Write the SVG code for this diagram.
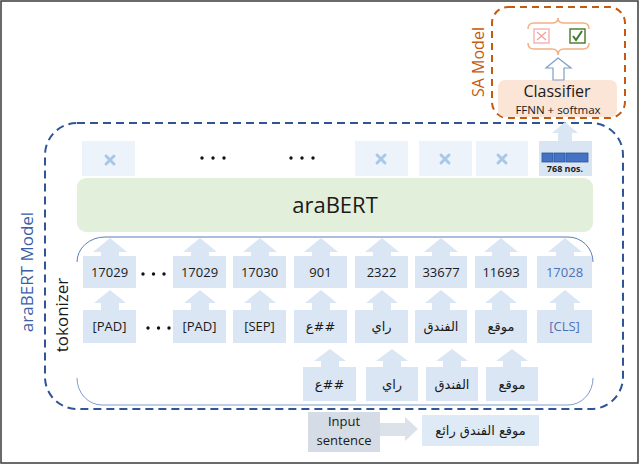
<svg xmlns="http://www.w3.org/2000/svg" width="640" height="466" viewBox="0 0 640 466">
<defs>
<style>
.t{font-family:"Open Sans","Noto Sans",sans-serif;fill:#1a1a1a}
.ar{font-family:"DejaVu Sans","Noto Sans",sans-serif;fill:#1a1a1a;font-size:13px}
.num{font-size:13px;text-anchor:middle}
.tok{fill:#DBE6F4}
.emb{fill:#EDF3FA}
.arr{fill:#DBE6F4}
.xm{stroke:#A9C8E8;stroke-width:3;stroke-linecap:round}
.blue{fill:#4A72B5}
.dot{fill:#111}
</style>
</defs>
<rect x="1" y="1" width="637" height="462" fill="#fff" stroke="#3a3a3a" stroke-width="1.5"/>

<!-- araBERT Model dashed container -->
<g id="arabert-model">
<rect x="45" y="123" width="578" height="286" rx="32" fill="none" stroke="#2F5597" stroke-width="2" stroke-dasharray="8 5"/>
<text class="t" x="0" y="0" font-size="17" style="fill:#3A5FA8" text-anchor="middle" transform="translate(33,272) rotate(-90)">araBERT Model</text>
</g>

<!-- SA Model dashed container -->
<g id="sa-model">
<rect x="492" y="7" width="133" height="111" rx="16" fill="none" stroke="#C55A11" stroke-width="2" stroke-dasharray="7 5"/>
<text class="t" x="0" y="0" font-size="16" style="fill:#C55A11" text-anchor="middle" transform="translate(484,62) rotate(-90)">SA Model</text>
</g>

<!-- tokenizer bracket -->
<g id="tokenizer">
<path d="M77,262 A28,25 0 0 1 105,237 H568 A25,25 0 0 1 593,262" fill="none" stroke="#5B7DB8" stroke-width="1"/>
<path d="M77,378 A25,27 0 0 0 102,405 H568 A25,27 0 0 0 593,378" fill="none" stroke="#7F9CC8" stroke-width="1"/>
<text class="t" x="0" y="0" font-size="17" text-anchor="middle" transform="translate(68,315) rotate(-90)">tokonizer</text>
</g>

<!-- araBERT block -->
<g id="arabert">
<rect x="77" y="178" width="516" height="54" rx="9" fill="#E2EFDA"/>
<text class="t" x="335" y="213" font-size="22" text-anchor="middle">araBERT</text>
</g>

<!-- output embeddings row -->
<g id="outputs">
<rect class="emb" x="82" y="141" width="53" height="35"/>
<line class="xm" x1="106" y1="156" x2="114" y2="164"/><line class="xm" x1="114" y1="156" x2="106" y2="164"/>
<circle class="dot" cx="202" cy="158" r="1.7"/><circle class="dot" cx="213" cy="158" r="1.7"/><circle class="dot" cx="224" cy="158" r="1.7"/>
<circle class="dot" cx="291" cy="158" r="1.7"/><circle class="dot" cx="302" cy="158" r="1.7"/><circle class="dot" cx="313" cy="158" r="1.7"/>
<rect class="emb" x="355" y="141" width="53" height="35"/>
<line class="xm" x1="377" y1="155" x2="385" y2="163"/><line class="xm" x1="385" y1="155" x2="377" y2="163"/>
<rect class="emb" x="419" y="141" width="53" height="35"/>
<line class="xm" x1="441" y1="155" x2="449" y2="163"/><line class="xm" x1="449" y1="155" x2="441" y2="163"/>
<rect class="emb" x="476" y="141" width="52" height="35"/>
<line class="xm" x1="498" y1="155" x2="506" y2="163"/><line class="xm" x1="506" y1="155" x2="498" y2="163"/>
</g>
<g id="cls-output">
<path class="arr" d="M565,122 L578,133 H572 V141 H558 V133 H552 Z"/>
<rect x="539" y="141" width="53" height="35" fill="#DAE5F3"/>
<rect x="542" y="153" width="11" height="9" fill="#4472C4" stroke="#2F5597" stroke-width="0.8"/>
<rect x="554" y="153" width="11" height="9" fill="#4472C4" stroke="#2F5597" stroke-width="0.8"/>
<rect x="566" y="153" width="22" height="9" fill="#4472C4" stroke="#2F5597" stroke-width="0.8"/>
<text class="t" x="565" y="172" font-size="9" font-weight="bold" text-anchor="middle">768 nos.</text>
</g>

<!-- classifier -->
<g id="classifier">
<rect x="498" y="80" width="119" height="37" rx="7" fill="#FBE5D6"/>
<text class="t" x="557" y="97" font-size="16" text-anchor="middle">Classifier</text>
<text class="t" x="558" y="114" font-size="11.5" text-anchor="middle">FFNN + softmax</text>
</g>
<g id="sentiment">
<path d="M528,29 Q528,23 534,23 H552 Q558,23 558,18 Q558,23 564,23 H583 Q589,23 589,29" fill="none" stroke="#F4B183" stroke-width="1.5"/>
<path d="M528,43 Q528,49 534,49 H552 Q558,49 558,55 Q558,49 564,49 H583 Q589,49 589,43" fill="none" stroke="#F4B183" stroke-width="1.5"/>
<rect x="534" y="29" width="15" height="14" fill="#fff" stroke="#F4B6B6" stroke-width="1.5"/>
<path d="M537,32 L546,40 M546,32 L537,40" stroke="#F4A0A0" stroke-width="1.3"/>
<rect x="570" y="29" width="15" height="14" fill="#fff" stroke="#538135" stroke-width="1.5"/>
<path d="M573,36 L576,40 L582,31" fill="none" stroke="#3F7A2A" stroke-width="2"/>
</g>

<!-- connectors -->
<g id="connectors">
<path d="M558,58 L571,68 H564 V80 H553 V68 H546 Z" fill="#fff" stroke="#7F9CC8" stroke-width="1.2"/>
<g class="arr">
<path d="M110,238 L127,252 H119 V256 H101 V252 H93 Z"/>
<path d="M200,238 L217,252 H209 V256 H191 V252 H183 Z"/>
<path d="M260,238 L277,252 H269 V256 H251 V252 H243 Z"/>
<path d="M321,238 L338,252 H330 V256 H312 V252 H304 Z"/>
<path d="M382,238 L399,252 H391 V256 H373 V252 H365 Z"/>
<path d="M441,238 L458,252 H450 V256 H432 V252 H424 Z"/>
<path d="M501,238 L518,252 H510 V256 H492 V252 H484 Z"/>
<path d="M565,238 L582,252 H574 V256 H556 V252 H548 Z"/>
<path d="M110,290 L126,303 H119 V310 H101 V303 H94 Z"/>
<path d="M200,290 L216,303 H209 V310 H191 V303 H184 Z"/>
<path d="M260,290 L276,303 H269 V310 H251 V303 H244 Z"/>
<path d="M321,290 L337,303 H330 V310 H312 V303 H305 Z"/>
<path d="M382,290 L398,303 H391 V310 H373 V303 H366 Z"/>
<path d="M441,290 L457,303 H450 V310 H432 V303 H425 Z"/>
<path d="M501,290 L517,303 H510 V310 H492 V303 H485 Z"/>
<path d="M565,290 L581,303 H574 V310 H556 V303 H549 Z"/>
<path d="M330,349 L346,361 H339 V367 H321 V361 H314 Z"/>
<path d="M392,349 L408,361 H401 V367 H383 V361 H376 Z"/>
<path d="M452,349 L468,361 H461 V367 H443 V361 H436 Z"/>
<path d="M512,349 L528,361 H521 V367 H503 V361 H496 Z"/>
</g>
<path d="M380,423 H405 V417 L418,429 L405,441 V436 H380 Z" fill="#DCE2EA"/>
</g>

<!-- token id row -->
<g id="ids">
<rect class="tok" x="83" y="256" width="53" height="32"/><text class="t num" x="109.5" y="277">17029</text>
<circle class="dot" cx="143" cy="274" r="1.7"/><circle class="dot" cx="153.5" cy="274" r="1.7"/><circle class="dot" cx="164" cy="274" r="1.7"/>
<rect class="tok" x="173" y="256" width="53" height="32"/><text class="t num" x="199.5" y="277">17029</text>
<rect class="tok" x="233" y="256" width="53" height="32"/><text class="t num" x="259.5" y="277">17030</text>
<rect class="tok" x="294" y="256" width="53" height="32"/><text class="t num" x="320.5" y="277">901</text>
<rect class="tok" x="355" y="256" width="53" height="32"/><text class="t num" x="381.5" y="277">2322</text>
<rect class="tok" x="415" y="256" width="52" height="32"/><text class="t num" x="441" y="277">33677</text>
<rect class="tok" x="475" y="256" width="52" height="32"/><text class="t num" x="501" y="277">11693</text>
<rect class="tok" x="537" y="256" width="55" height="32"/><text class="t num blue" x="564.5" y="277">17028</text>
</g>

<!-- token row -->
<g id="tokens">
<rect class="tok" x="83" y="310" width="53" height="33"/><text class="t num" x="109.5" y="331">[PAD]</text>
<circle class="dot" cx="148" cy="328" r="1.7"/><circle class="dot" cx="158.5" cy="328" r="1.7"/><circle class="dot" cx="169" cy="328" r="1.7"/>
<rect class="tok" x="173" y="310" width="53" height="33"/><text class="t num" x="199.5" y="331">[PAD]</text>
<rect class="tok" x="233" y="310" width="53" height="33"/><text class="t num" x="259.5" y="331">[SEP]</text>
<rect class="tok" x="294" y="310" width="53" height="33"/><text class="ar" x="320.5" y="331" text-anchor="middle" direction="ltr">ع##</text>
<rect class="tok" x="355" y="310" width="53" height="33"/><text class="ar" x="381.5" y="331" text-anchor="middle">راي</text>
<rect class="tok" x="415" y="310" width="52" height="33"/><text class="ar" x="441" y="331" text-anchor="middle">الفندق</text>
<rect class="tok" x="475" y="310" width="52" height="33"/><text class="ar" x="501" y="331" text-anchor="middle">موقع</text>
<rect class="tok" x="537" y="310" width="55" height="33"/><text class="t num blue" x="564.5" y="331">[CLS]</text>
</g>

<!-- word row -->
<g id="words">
<rect class="tok" x="303" y="367" width="53" height="34"/><text class="ar" x="329.5" y="389" text-anchor="middle" direction="ltr">ع##</text>
<rect class="tok" x="366" y="367" width="52" height="34"/><text class="ar" x="392" y="389" text-anchor="middle">راي</text>
<rect class="tok" x="426" y="367" width="52" height="34"/><text class="ar" x="452" y="389" text-anchor="middle">الفندق</text>
<rect class="tok" x="486" y="367" width="52" height="34"/><text class="ar" x="512" y="389" text-anchor="middle">موقع</text>
</g>

<!-- input -->
<g id="input">
<rect x="308" y="412" width="72" height="40" fill="#D6DCE5"/>
<text class="t" x="344" y="426" font-size="13" text-anchor="middle">Input</text>
<text class="t" x="344" y="445" font-size="13" text-anchor="middle">sentence</text>
</g>
<g id="sentence">
<rect x="422" y="415" width="117" height="31" fill="#DEEBF7"/>
<text class="ar" x="480.5" y="435" text-anchor="middle" font-size="14">موقع الفندق رائع</text>
</g>
</svg>
